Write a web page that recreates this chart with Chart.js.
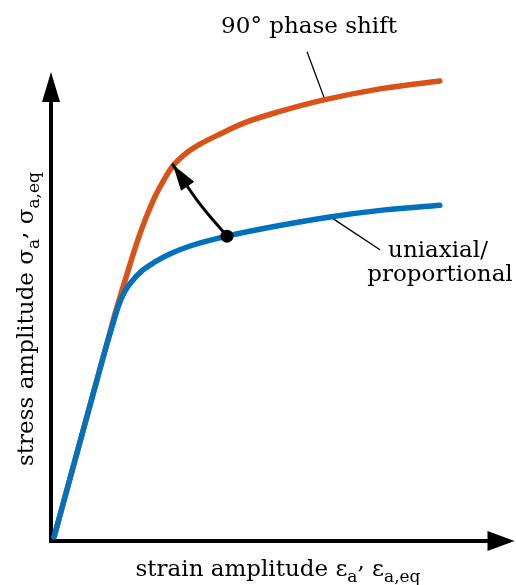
<!DOCTYPE html>
<html>
<head>
<meta charset="utf-8">
<script src="https://cdn.jsdelivr.net/npm/chart.js@4.4.0/dist/chart.umd.min.js"></script>
<style>
  html, body { margin: 0; padding: 0; background: #fff; }
  #wrap { width: 516px; height: 585px; position: relative; }
</style>
</head>
<body>
<div id="wrap"><canvas id="c"></canvas></div>
<script>
// strain (x) / stress (y) in arbitrary units
const uniaxialX = [0.07, 1.18, 1.36, 1.49, 1.62, 1.80, 2.02, 2.31, 2.64, 3.09, 3.91, 4.87, 6.20, 7.42, 8.64];
const uniaxialY = [0.09, 3.99, 4.58, 4.99, 5.29, 5.54, 5.76, 5.95, 6.12, 6.29, 6.50, 6.69, 6.91, 7.06, 7.16];

const phaseX = [0.07, 1.27, 1.42, 1.58, 1.76, 1.93, 2.11, 2.31, 2.51, 2.71, 2.98, 3.31, 3.76, 4.31, 5.09, 6.04, 7.31, 8.64];
const phaseY = [0.09, 4.31, 4.84, 5.35, 5.91, 6.42, 6.89, 7.34, 7.70, 8.00, 8.25, 8.46, 8.68, 8.92, 9.16, 9.40, 9.64, 9.81];

// curved arrow from the marked point up to the 90° curve
const arrowX = [3.91, 3.29, 2.71];
const arrowY = [6.50, 7.21, 8.02];
const dotX = [3.91];
const dotY = [6.50];

// leader lines for the labels
const leaderPhaseX = [5.69, 6.09];
const leaderPhaseY = [10.43, 9.40];
const leaderUniX = [6.24, 7.31];
const leaderUniY = [6.89, 6.21];

const axisEndX = 10.3;
const axisEndY = 10.0;

const labelPhase = '90° phase shift';
const labelUni = ['uniaxial/', 'proportional'];

const pts = (xs, ys) => xs.map((x, i) => ({ x: x, y: ys[i] }));

const FONT = '"DejaVu Serif", "Liberation Serif", serif';
const BLUE = '#0072BD';
const ORANGE = '#D95319';

// text with subscripts, parts = [[text, 'sub'|'up'|undefined], ...]
function richWidth(ctx, parts, size, subSize) {
  let w = 0;
  parts.forEach(p => {
    ctx.font = (p[1] === 'sub' ? subSize : size) + 'px ' + FONT;
    w += ctx.measureText(p[0]).width;
  });
  return w;
}
function drawRich(ctx, parts, cx, y, size, subSize) {
  let x = cx - richWidth(ctx, parts, size, subSize) / 2;
  ctx.textAlign = 'left';
  ctx.textBaseline = 'alphabetic';
  parts.forEach(p => {
    ctx.font = (p[1] === 'sub' ? subSize : size) + 'px ' + FONT;
    let dy = 0;
    if (p[1] === 'sub') dy = size * 0.28;
    if (p[1] === 'up') dy = -size * 0.3;
    ctx.fillText(p[0], x, y + dy);
    x += ctx.measureText(p[0]).width;
  });
}

function arrowHead(ctx, x0, y0, x1, y1, len, half) {
  const a = Math.atan2(y1 - y0, x1 - x0);
  ctx.save();
  ctx.translate(x1, y1);
  ctx.rotate(a);
  ctx.beginPath();
  ctx.moveTo(0, 0);
  ctx.lineTo(-len, -half);
  ctx.lineTo(-len, half);
  ctx.closePath();
  ctx.fill();
  ctx.restore();
}

const sketchPlugin = {
  id: 'sketch',
  beforeDatasetsDraw(chart) {
    const ctx = chart.ctx;
    const sx = chart.scales.x, sy = chart.scales.y;
    const ox = sx.getPixelForValue(0), oy = sy.getPixelForValue(0);
    const ex = sx.getPixelForValue(axisEndX), ey = sy.getPixelForValue(axisEndY);
    ctx.save();
    ctx.strokeStyle = '#000';
    ctx.fillStyle = '#000';
    ctx.lineWidth = 4;
    ctx.lineCap = 'butt';
    ctx.beginPath();
    ctx.moveTo(ox, ey + 20);
    ctx.lineTo(ox, oy);
    ctx.lineTo(ex - 20, oy);
    ctx.stroke();
    arrowHead(ctx, ox, oy, ox, ey, 30, 9);
    arrowHead(ctx, ox, oy, ex, oy, 27, 10);
    ctx.restore();
  },
  afterDatasetsDraw(chart) {
    const ctx = chart.ctx;
    const sx = chart.scales.x, sy = chart.scales.y;
    ctx.save();
    ctx.fillStyle = '#000';
    const n = arrowX.length;
    arrowHead(ctx,
      sx.getPixelForValue(arrowX[n - 2]), sy.getPixelForValue(arrowY[n - 2]),
      sx.getPixelForValue(arrowX[n - 1]), sy.getPixelForValue(arrowY[n - 1]), 26, 8);

    const size = 23, sub = 17;
    ctx.font = size + 'px ' + FONT;
    ctx.textAlign = 'center';
    ctx.textBaseline = 'alphabetic';
    ctx.fillText(labelPhase, 309, 33);
    ctx.fillText(labelUni[0], 438, 257);
    ctx.fillText(labelUni[1], 440, 281);

    drawRich(ctx, [['strain amplitude ε'], ['a', 'sub'], [',', 'up'], [' ε'], ['a,eq', 'sub']], 278, 576, size, sub);

    ctx.translate(33, 319);
    ctx.rotate(-Math.PI / 2);
    drawRich(ctx, [['stress amplitude σ'], ['a', 'sub'], [',', 'up'], [' σ'], ['a,eq', 'sub']], 0, 0, size, sub);
    ctx.restore();
  }
};

const lineSet = (data, color, width, extra) => Object.assign({
  data: data,
  borderColor: color,
  backgroundColor: color,
  borderWidth: width,
  pointRadius: 0,
  showLine: true,
  fill: false,
  borderCapStyle: 'round',
  borderJoinStyle: 'round'
}, extra || {});

new Chart(document.getElementById('c'), {
  type: 'scatter',
  data: {
    datasets: [
      lineSet(pts(dotX, dotY), '#000', 0, { showLine: false, pointRadius: 6.5, pointBackgroundColor: '#000', pointBorderWidth: 0 }),
      lineSet(pts(arrowX, arrowY), '#000', 3, { tension: 0.4 }),
      lineSet(pts(uniaxialX, uniaxialY), BLUE, 5.5, { cubicInterpolationMode: 'monotone' }),
      lineSet(pts(phaseX, phaseY), ORANGE, 5.5, { cubicInterpolationMode: 'monotone' }),
      lineSet(pts(leaderPhaseX, leaderPhaseY), '#000', 1.3, { borderCapStyle: 'butt' }),
      lineSet(pts(leaderUniX, leaderUniY), '#000', 1.3, { borderCapStyle: 'butt' })
    ]
  },
  options: {
    responsive: true,
    maintainAspectRatio: false,
    animation: false,
    layout: { padding: 0, autoPadding: false },
    plugins: { legend: { display: false }, tooltip: { enabled: false } },
    scales: {
      x: { type: 'linear', min: -51 / 45, max: 465 / 45, display: false },
      y: { type: 'linear', min: -44 / 46.9, max: 541 / 46.9, display: false }
    }
  },
  plugins: [sketchPlugin]
});
</script>
</body>
</html>
